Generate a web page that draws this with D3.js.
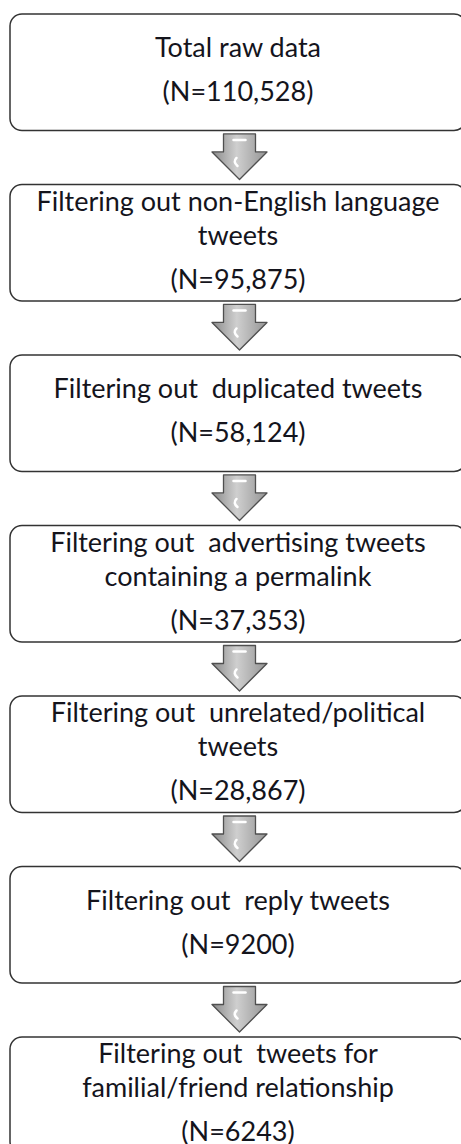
<!DOCTYPE html>
<html>
<head>
<meta charset="utf-8">
<script src="https://cdn.jsdelivr.net/npm/d3@7"></script>
<style>
  html, body { margin: 0; padding: 0; background: #fff; }
  svg { display: block; }
  .step-text { font-family: Lato, "Open Sans", sans-serif; font-size: 27px; fill: #14141c; }
</style>
</head>
<body>
<div id="flow"></div>
<script>
//Data
const steps = [0, 1, 2, 3, 4, 5, 6];
const stepLabels = [
    ['Total raw data'],
    ['Filtering out non-English language', 'tweets'],
    ['Filtering out  duplicated tweets'],
    ['Filtering out  advertising tweets', 'containing a permalink'],
    ['Filtering out  unrelated/political', 'tweets'],
    ['Filtering out  reply tweets'],
    ['Filtering out  tweets for', 'familial/friend relationship']
];
const counts = [110528, 95875, 58124, 37353, 28867, 9200, 6243];

//General config
const width = 461;
const height = 1144;
const box = {left: 10, right: 466, radius: 12};
const lineGap = 34;
const countGap = 44;
const textX = 238;
const arrowX = 239.5;

const fmtCount = n => `(N=${n >= 10000 ? d3.format(',')(n) : n})`;

//Scales
const y = d3.scaleBand()
    .domain(steps)
    .range([14, 1153.5])
    .paddingInner(0.317)
    .paddingOuter(0);

const svg = d3.select('#flow').append('svg')
    .attr('width', width)
    .attr('height', height);

//Arrow gradient
const defs = svg.append('defs');
const grad = defs.append('linearGradient')
    .attr('id', 'arrowGrad')
    .attr('x1', 0).attr('x2', 1).attr('y1', 0).attr('y2', 0);
grad.append('stop').attr('offset', '0%').attr('stop-color', '#8a8a8a');
grad.append('stop').attr('offset', '45%').attr('stop-color', '#cfcfcf');
grad.append('stop').attr('offset', '100%').attr('stop-color', '#949494');

//Arrows between boxes
const arrowPath = i => {
    const top = y(i) + y.bandwidth() + 3.5;
    const tip = y(i + 1) - 5;
    const neck = top + 18;
    const p = d3.path();
    p.moveTo(arrowX - 16, top);
    p.lineTo(arrowX + 16, top);
    p.lineTo(arrowX + 16, neck);
    p.lineTo(arrowX + 27.5, neck);
    p.lineTo(arrowX, tip);
    p.lineTo(arrowX - 27.5, neck);
    p.lineTo(arrowX - 16, neck);
    p.closePath();
    return p.toString();
};

const arrows = svg.selectAll('.arrow')
    .data(steps.slice(0, -1))
    .enter()
    .append('g')
    .attr('class', 'arrow');

arrows.append('path')
    .attr('d', arrowPath)
    .attr('fill', 'url(#arrowGrad)')
    .attr('stroke', '#4f4f4f')
    .attr('stroke-width', 1.3)
    .attr('stroke-linejoin', 'round');

//highlight strokes on the arrow
arrows.append('path')
    .attr('d', i => {
        const top = y(i) + y.bandwidth() + 3.5;
        return `M${arrowX - 6},${top + 6} L${arrowX + 6},${top + 6}`;
    })
    .attr('stroke', '#ffffff')
    .attr('stroke-width', 2.5)
    .attr('stroke-linecap', 'round');

arrows.append('path')
    .attr('d', i => {
        const top = y(i) + y.bandwidth() + 3.5;
        return `M${arrowX - 3},${top + 24} Q${arrowX - 7},${top + 28} ${arrowX - 2},${top + 32}`;
    })
    .attr('stroke', '#ffffff')
    .attr('stroke-width', 2.5)
    .attr('fill', 'none')
    .attr('stroke-linecap', 'round');

//Boxes
const boxes = svg.selectAll('.step')
    .data(steps)
    .enter()
    .append('g')
    .attr('class', 'step')
    .attr('transform', d => `translate(0, ${y(d)})`);

boxes.append('rect')
    .attr('x', box.left)
    .attr('y', 0)
    .attr('width', box.right - box.left)
    .attr('height', y.bandwidth())
    .attr('rx', box.radius)
    .attr('ry', box.radius)
    .attr('fill', '#fff')
    .attr('stroke', '#333')
    .attr('stroke-width', 1.5);

//Text lines
boxes.each(function (d) {
    const lines = stepLabels[d];
    const span = (lines.length - 1) * lineGap + countGap;
    const first = y.bandwidth() / 2 + 7 - span / 2;
    const g = d3.select(this);
    lines.forEach((t, k) => {
        g.append('text')
            .attr('class', 'step-text')
            .attr('x', textX)
            .attr('y', first + k * lineGap)
            .attr('text-anchor', 'middle')
            .style('white-space', 'pre')
            .text(t);
    });
    g.append('text')
        .attr('class', 'step-text')
        .attr('x', textX)
        .attr('y', first + (lines.length - 1) * lineGap + countGap)
        .attr('text-anchor', 'middle')
        .text(fmtCount(counts[d]));
});
</script>
</body>
</html>
